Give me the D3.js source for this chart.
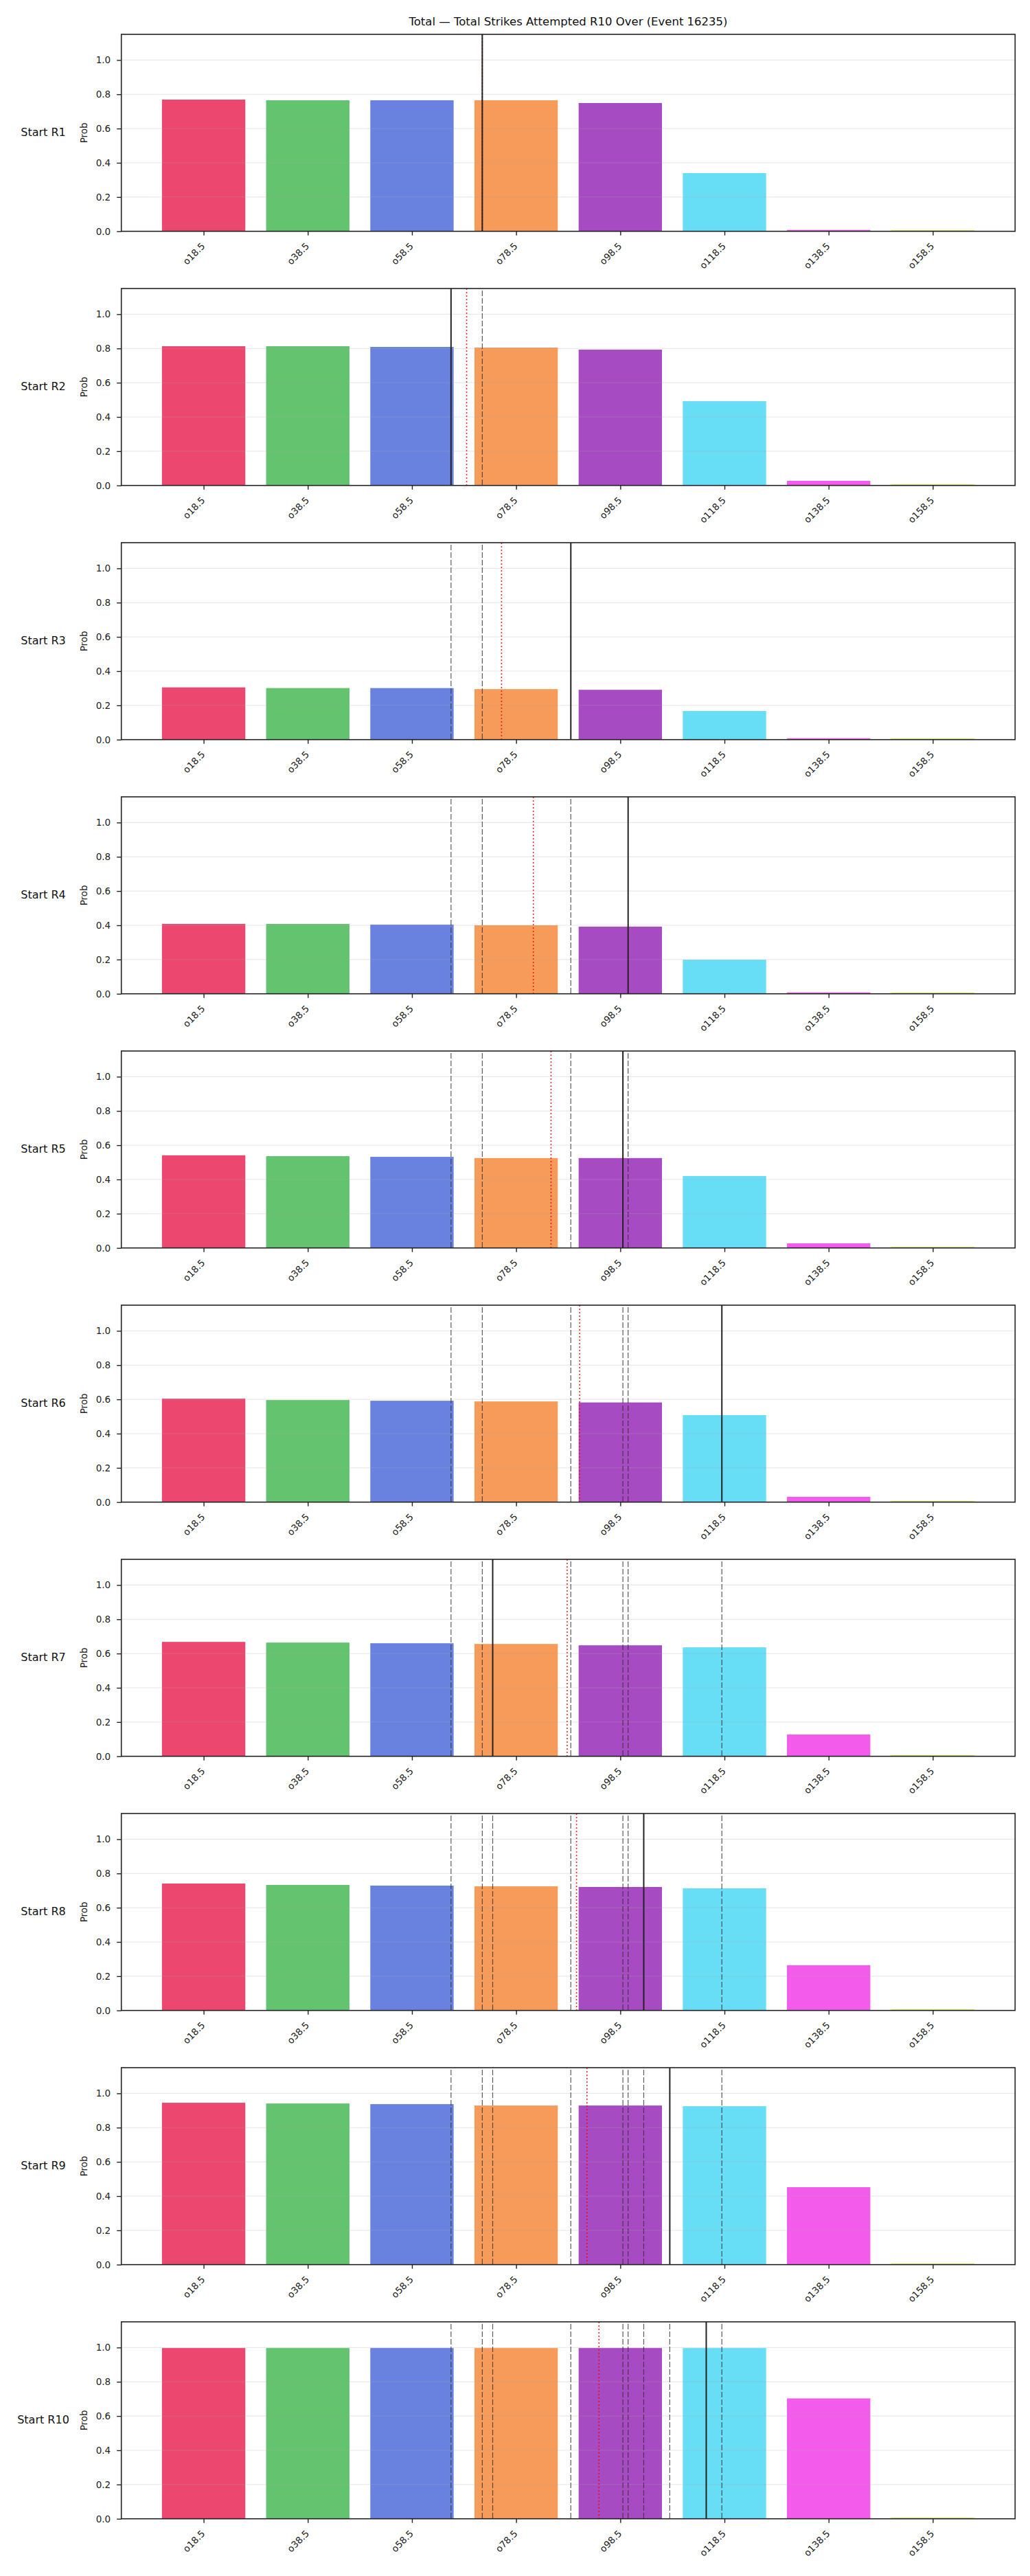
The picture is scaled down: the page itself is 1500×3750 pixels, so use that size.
<!DOCTYPE html>
<html lang="en">
<head>
  <meta charset="UTF-8">
  <title>Total Strikes Attempted R10 Over</title>
  <style>
    body { margin: 0; background: #fff; font-family: 'DejaVu Sans', sans-serif; }
    svg { display: block; }
    .tick text { fill: #222; }
  </style>
  <script src="https://d3js.org/d3.v7.min.js"></script>
</head>
<body>
  <svg id="chart" width="1500" height="3750"></svg>

  <script>
    // thresholds (bars) and their labels
    const thresholds = [18.5, 38.5, 58.5, 78.5, 98.5, 118.5, 138.5, 158.5];
    const tickLabels = ["o18.5", "o38.5", "o58.5", "o78.5", "o98.5", "o118.5", "o138.5", "o158.5"];
    const roundLabels = ["Start R1", "Start R2", "Start R3", "Start R4", "Start R5",
                         "Start R6", "Start R7", "Start R8", "Start R9", "Start R10"];
    const yTicks = [0, 0.2, 0.4, 0.6, 0.8, 1.0];

    // over probabilities, one array per round
    const probR1  = [0.769, 0.765, 0.765, 0.765, 0.749, 0.340, 0.008, 0.007];
    const probR2  = [0.813, 0.813, 0.809, 0.805, 0.793, 0.492, 0.027, 0.007];
    const probR3  = [0.305, 0.301, 0.301, 0.295, 0.291, 0.167, 0.008, 0.007];
    const probR4  = [0.408, 0.408, 0.404, 0.400, 0.392, 0.199, 0.008, 0.007];
    const probR5  = [0.541, 0.536, 0.532, 0.525, 0.525, 0.420, 0.027, 0.007];
    const probR6  = [0.604, 0.596, 0.592, 0.588, 0.582, 0.508, 0.031, 0.007];
    const probR7  = [0.668, 0.664, 0.660, 0.656, 0.648, 0.636, 0.127, 0.007];
    const probR8  = [0.741, 0.733, 0.729, 0.725, 0.721, 0.713, 0.264, 0.007];
    const probR9  = [0.945, 0.941, 0.937, 0.929, 0.929, 0.925, 0.452, 0.007];
    const probR10 = [0.997, 0.997, 0.997, 0.997, 0.997, 0.997, 0.703, 0.007];

    // projected total at each round (solid line) and running average (red dotted)
    const projected = [72, 66, 89, 100, 99, 118, 74, 103, 108, 115];
    const avgLine   = [72, 69, 75.7, 81.8, 85.2, 90.7, 88.3, 90.1, 92.1, 94.4];

    const barColors = ["#e6194b", "#3cb44b", "#4363d8", "#f58231",
                       "#911eb4", "#42d4f4", "#f032e6", "#bfef45"];

    const panels = [probR1, probR2, probR3, probR4, probR5, probR6, probR7, probR8, probR9, probR10];

    const svg = d3.select("#chart");
    const left = 176.7, right = 1478.3;
    const top0 = 50, step = 370, plotH = 286.7;
    const binW = 20; // spacing between thresholds

    const x = d3.scaleLinear()
      .domain([thresholds[0] - 0.79 * binW, thresholds[thresholds.length - 1] + 0.79 * binW])
      .range([left, right]);
    const halfBar = 0.4 * binW;

    svg.append("text")
      .attr("x", (left + right) / 2)
      .attr("y", 37)
      .attr("text-anchor", "middle")
      .attr("font-size", 16.5)
      .attr("fill", "#111")
      .text("Total \u2014 Total Strikes Attempted R10 Over (Event 16235)");

    panels.forEach((vals, i) => {
      const top = top0 + step * i;
      const y = d3.scaleLinear().domain([0, 1.15]).range([top + plotH, top]);
      const g = svg.append("g");

      // bars
      g.selectAll("rect.bar")
        .data(vals)
        .enter().append("rect")
        .attr("class", "bar")
        .attr("x", (d, j) => x(thresholds[j] - halfBar))
        .attr("width", (d, j) => x(thresholds[j] + halfBar) - x(thresholds[j] - halfBar))
        .attr("y", d => y(d))
        .attr("height", d => y(0) - y(d))
        .attr("fill", (d, j) => barColors[j])
        .attr("fill-opacity", 0.8);

      // grid
      g.selectAll("line.grid")
        .data(yTicks.slice(1))
        .enter().append("line")
        .attr("x1", left).attr("x2", right)
        .attr("y1", d => y(d)).attr("y2", d => y(d))
        .attr("stroke", "rgba(170,170,170,0.3)")
        .attr("stroke-width", 1);

      // earlier rounds' projections
      g.selectAll("line.prev")
        .data(projected.slice(0, i))
        .enter().append("line")
        .attr("x1", d => x(d)).attr("x2", d => x(d))
        .attr("y1", top).attr("y2", top + plotH)
        .attr("stroke", "rgba(50,50,50,0.8)")
        .attr("stroke-width", 1.2)
        .attr("stroke-dasharray", "8,3")
        .attr("stroke-dashoffset", -3);

      // running average
      g.append("line")
        .attr("x1", x(avgLine[i])).attr("x2", x(avgLine[i]))
        .attr("y1", top).attr("y2", top + plotH)
        .attr("stroke", "rgba(255,0,0,0.85)")
        .attr("stroke-width", 1.6)
        .attr("stroke-dasharray", "2,3");

      // current projection
      g.append("line")
        .attr("x1", x(projected[i])).attr("x2", x(projected[i]))
        .attr("y1", top).attr("y2", top + plotH)
        .attr("stroke", "#222")
        .attr("stroke-width", 2);

      // frame
      g.append("rect")
        .attr("x", left).attr("y", top)
        .attr("width", right - left).attr("height", plotH)
        .attr("fill", "none")
        .attr("stroke", "#222")
        .attr("stroke-width", 1.6);

      // y axis
      const yAxis = g.append("g")
        .attr("transform", `translate(${left},0)`)
        .call(d3.axisLeft(y).tickValues(yTicks).tickFormat(d3.format(".1f")).tickSize(6.5).tickPadding(9));
      yAxis.select(".domain").remove();
      yAxis.selectAll(".tick line").attr("stroke", "#222").attr("stroke-width", 1.4);
      yAxis.selectAll(".tick text").attr("font-size", 13.5).attr("font-family", "DejaVu Sans");

      // x axis
      const xAxis = g.append("g")
        .attr("transform", `translate(0,${top + plotH})`)
        .call(d3.axisBottom(x).tickValues(thresholds).tickFormat((d, j) => tickLabels[j]).tickSize(6));
      xAxis.select(".domain").remove();
      xAxis.selectAll(".tick line").attr("stroke", "#222").attr("stroke-width", 1.4);
      xAxis.selectAll(".tick text")
        .attr("font-size", 13.5)
        .attr("font-family", "DejaVu Sans")
        .attr("text-anchor", "end")
        .attr("x", 0).attr("y", 0).attr("dy", null)
        .attr("transform", "translate(-5,15) rotate(-45)")
        .attr("dominant-baseline", "hanging");

      // y label
      g.append("text")
        .attr("transform", `translate(127,${top + plotH / 2}) rotate(-90)`)
        .attr("text-anchor", "middle")
        .attr("font-size", 13.5)
        .attr("fill", "#222")
        .text("Prob");

      // round label
      g.append("text")
        .attr("x", 63)
        .attr("y", top + plotH / 2)
        .attr("text-anchor", "middle")
        .attr("dominant-baseline", "middle")
        .attr("font-size", 16)
        .attr("fill", "#111")
        .text(roundLabels[i]);
    });
  </script>
</body>
</html>
